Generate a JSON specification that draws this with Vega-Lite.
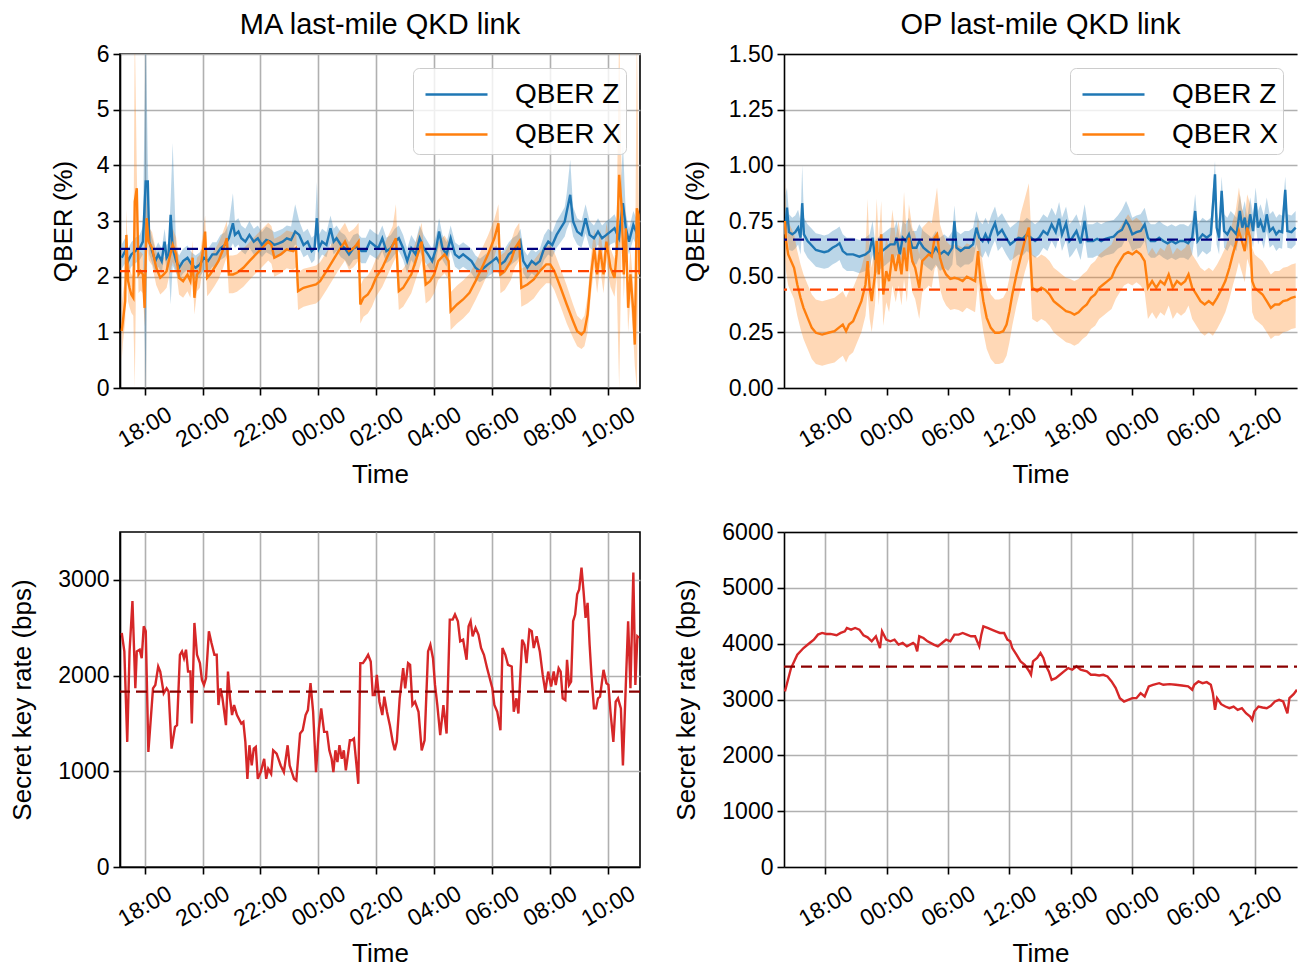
{
"$schema": "https://vega.github.io/schema/vega-lite/v6.json",
"background": "white",
"padding": {"left": 9, "top": 10, "right": 0, "bottom": 0},
"bounds": "flush",
"columns": 2,
"spacing": {"row": 144, "column": 144},
"resolve": {"scale": {"color": "independent"}},
"config": {
 "font": "Liberation Sans",
 "view": {"stroke": "black", "strokeWidth": 1.6},
 "axis": {"labelFontSize": 23, "titleFontSize": 26, "titleFontWeight": "normal", "labelColor": "black", "titleColor": "black", "domainColor": "black", "domainWidth": 1.6, "tickColor": "black", "tickWidth": 1.6, "tickSize": 7, "gridColor": "#b0b0b0", "gridWidth": 1.6, "gridOpacity": 1, "labelPadding": 4, "labelFlush": false, "labelOverlap": false},
 "axisX": {"labelAngle": -30, "labelAlign": "center", "labelBaseline": "middle", "labelPadding": 32, "titlePadding": 10},
 "title": {"fontSize": 29, "fontWeight": "normal", "color": "black", "offset": 3},
 "legend": {"title": null, "orient": "top-right", "offset": 14, "symbolType": "M-1.55,0H1.55", "symbolSize": 1600, "symbolStrokeWidth": 2.6, "symbolOffset": 17, "labelFontSize": 28, "labelOffset": 37, "rowPadding": 4, "padding": 5, "fillColor": "rgba(255,255,255,0.8)", "strokeColor": "#cccccc", "cornerRadius": 6, "labelColor": "black", "labelLimit": 300}
},
"datasets": {
 "maq": [
{"s":"QBER Z","t":17.21,"v":2.34,"lo":2.14,"hi":2.58},{"s":"QBER Z","t":17.33,"v":2.46,"lo":2.24,"hi":2.70},{"s":"QBER Z","t":17.43,"v":2.28,"lo":2.06,"hi":2.50},{"s":"QBER Z","t":17.54,"v":2.40,"lo":2.18,"hi":2.62},{"s":"QBER Z","t":17.68,"v":2.46,"lo":2.24,"hi":2.70},{"s":"QBER Z","t":17.83,"v":2.51,"lo":2.30,"hi":2.75},{"s":"QBER Z","t":17.94,"v":2.63,"lo":2.40,"hi":2.90},{"s":"QBER Z","t":18.04,"v":3.71,"lo":0,"hi":6.5},{"s":"QBER Z","t":18.11,"v":3.71,"lo":3.3,"hi":4.1},{"s":"QBER Z","t":18.16,"v":2.63,"lo":2.40,"hi":2.90},{"s":"QBER Z","t":18.26,"v":2.46,"lo":2.24,"hi":2.70},{"s":"QBER Z","t":18.37,"v":2.28,"lo":2.06,"hi":2.50},{"s":"QBER Z","t":18.47,"v":2.40,"lo":2.18,"hi":2.62},{"s":"QBER Z","t":18.59,"v":2.28,"lo":2.06,"hi":2.50},{"s":"QBER Z","t":18.69,"v":2.63,"lo":2.40,"hi":2.86},{"s":"QBER Z","t":18.76,"v":2.34,"lo":2.12,"hi":2.56},{"s":"QBER Z","t":18.83,"v":2.40,"lo":2.18,"hi":2.62},{"s":"QBER Z","t":18.90,"v":3.11,"lo":1.5,"hi":3.4},{"s":"QBER Z","t":18.97,"v":2.51,"lo":2.2,"hi":4.4},{"s":"QBER Z","t":19.09,"v":2.28,"lo":2.06,"hi":2.50},{"s":"QBER Z","t":19.19,"v":2.16,"lo":1.95,"hi":2.38},{"s":"QBER Z","t":19.33,"v":2.28,"lo":2.06,"hi":2.50},{"s":"QBER Z","t":19.48,"v":2.34,"lo":2.12,"hi":2.56},{"s":"QBER Z","t":19.62,"v":2.22,"lo":2.00,"hi":2.44},{"s":"QBER Z","t":19.76,"v":2.16,"lo":1.95,"hi":2.38},{"s":"QBER Z","t":19.91,"v":2.22,"lo":2.00,"hi":2.44},{"s":"QBER Z","t":20.05,"v":2.34,"lo":2.12,"hi":2.56},{"s":"QBER Z","t":20.19,"v":2.28,"lo":2.06,"hi":2.50},{"s":"QBER Z","t":20.34,"v":2.40,"lo":2.18,"hi":2.62},{"s":"QBER Z","t":20.48,"v":2.40,"lo":2.18,"hi":2.62},{"s":"QBER Z","t":20.62,"v":2.51,"lo":2.30,"hi":2.75},{"s":"QBER Z","t":20.77,"v":2.57,"lo":2.35,"hi":2.80},{"s":"QBER Z","t":20.91,"v":2.69,"lo":2.45,"hi":2.95},{"s":"QBER Z","t":21.05,"v":2.96,"lo":2.6,"hi":3.5},{"s":"QBER Z","t":21.12,"v":2.75,"lo":2.52,"hi":3.0},{"s":"QBER Z","t":21.24,"v":2.81,"lo":2.58,"hi":3.05},{"s":"QBER Z","t":21.34,"v":2.69,"lo":2.46,"hi":2.92},{"s":"QBER Z","t":21.48,"v":2.63,"lo":2.40,"hi":2.86},{"s":"QBER Z","t":21.62,"v":2.75,"lo":2.52,"hi":3.0},{"s":"QBER Z","t":21.77,"v":2.63,"lo":2.40,"hi":2.86},{"s":"QBER Z","t":21.91,"v":2.69,"lo":2.46,"hi":2.92},{"s":"QBER Z","t":22.05,"v":2.57,"lo":2.35,"hi":2.80},{"s":"QBER Z","t":22.20,"v":2.66,"lo":2.44,"hi":2.90},{"s":"QBER Z","t":22.34,"v":2.63,"lo":2.40,"hi":2.86},{"s":"QBER Z","t":22.48,"v":2.57,"lo":2.35,"hi":2.80},{"s":"QBER Z","t":22.63,"v":2.60,"lo":2.38,"hi":2.83},{"s":"QBER Z","t":22.77,"v":2.63,"lo":2.40,"hi":2.86},{"s":"QBER Z","t":22.91,"v":2.69,"lo":2.46,"hi":2.92},{"s":"QBER Z","t":23.06,"v":2.66,"lo":2.44,"hi":2.90},{"s":"QBER Z","t":23.20,"v":2.81,"lo":2.58,"hi":3.3},{"s":"QBER Z","t":23.34,"v":2.75,"lo":2.52,"hi":3.0},{"s":"QBER Z","t":23.49,"v":2.57,"lo":2.35,"hi":2.80},{"s":"QBER Z","t":23.63,"v":2.63,"lo":2.40,"hi":2.86},{"s":"QBER Z","t":23.77,"v":2.46,"lo":2.24,"hi":2.70},{"s":"QBER Z","t":23.87,"v":2.51,"lo":2.30,"hi":2.75},{"s":"QBER Z","t":23.95,"v":3.05,"lo":2.7,"hi":3.7},{"s":"QBER Z","t":24.02,"v":2.51,"lo":2.30,"hi":2.75},{"s":"QBER Z","t":24.13,"v":2.63,"lo":2.40,"hi":2.86},{"s":"QBER Z","t":24.28,"v":2.57,"lo":2.35,"hi":2.80},{"s":"QBER Z","t":24.42,"v":2.87,"lo":2.6,"hi":3.1},{"s":"QBER Z","t":24.53,"v":2.63,"lo":2.40,"hi":2.86},{"s":"QBER Z","t":24.63,"v":2.69,"lo":2.46,"hi":2.92},{"s":"QBER Z","t":24.78,"v":2.57,"lo":2.35,"hi":2.80},{"s":"QBER Z","t":24.92,"v":2.51,"lo":2.30,"hi":2.75},{"s":"QBER Z","t":25.06,"v":2.40,"lo":2.18,"hi":2.62},{"s":"QBER Z","t":25.21,"v":2.51,"lo":2.30,"hi":2.75},{"s":"QBER Z","t":25.35,"v":2.54,"lo":2.32,"hi":2.78},{"s":"QBER Z","t":25.49,"v":2.46,"lo":2.24,"hi":2.70},{"s":"QBER Z","t":25.64,"v":2.46,"lo":2.24,"hi":2.70},{"s":"QBER Z","t":25.78,"v":2.63,"lo":2.40,"hi":2.86},{"s":"QBER Z","t":25.92,"v":2.57,"lo":2.35,"hi":2.80},{"s":"QBER Z","t":26.07,"v":2.51,"lo":2.30,"hi":2.75},{"s":"QBER Z","t":26.21,"v":2.69,"lo":2.46,"hi":2.92},{"s":"QBER Z","t":26.35,"v":2.46,"lo":2.24,"hi":2.70},{"s":"QBER Z","t":26.50,"v":2.51,"lo":2.30,"hi":2.75},{"s":"QBER Z","t":26.64,"v":2.63,"lo":2.40,"hi":2.86},{"s":"QBER Z","t":26.78,"v":2.69,"lo":2.46,"hi":2.92},{"s":"QBER Z","t":26.93,"v":2.51,"lo":2.30,"hi":2.75},{"s":"QBER Z","t":27.07,"v":2.28,"lo":2.06,"hi":2.50},{"s":"QBER Z","t":27.21,"v":2.51,"lo":2.30,"hi":2.75},{"s":"QBER Z","t":27.36,"v":2.40,"lo":2.18,"hi":2.62},{"s":"QBER Z","t":27.50,"v":2.69,"lo":2.46,"hi":2.92},{"s":"QBER Z","t":27.64,"v":2.51,"lo":2.30,"hi":2.75},{"s":"QBER Z","t":27.79,"v":2.40,"lo":2.18,"hi":2.62},{"s":"QBER Z","t":27.93,"v":2.28,"lo":2.06,"hi":2.50},{"s":"QBER Z","t":28.07,"v":2.51,"lo":2.30,"hi":2.75},{"s":"QBER Z","t":28.17,"v":2.81,"lo":2.58,"hi":3.05},{"s":"QBER Z","t":28.29,"v":2.51,"lo":2.30,"hi":2.75},{"s":"QBER Z","t":28.43,"v":2.40,"lo":2.18,"hi":2.62},{"s":"QBER Z","t":28.57,"v":2.69,"lo":2.46,"hi":2.92},{"s":"QBER Z","t":28.72,"v":2.40,"lo":2.18,"hi":2.62},{"s":"QBER Z","t":28.86,"v":2.34,"lo":2.12,"hi":2.56},{"s":"QBER Z","t":29.00,"v":2.40,"lo":2.18,"hi":2.62},{"s":"QBER Z","t":29.15,"v":2.34,"lo":2.12,"hi":2.56},{"s":"QBER Z","t":29.29,"v":2.28,"lo":2.06,"hi":2.50},{"s":"QBER Z","t":29.43,"v":2.16,"lo":1.95,"hi":2.38},{"s":"QBER Z","t":29.58,"v":2.10,"lo":1.90,"hi":2.32},{"s":"QBER Z","t":29.72,"v":2.16,"lo":1.95,"hi":2.38},{"s":"QBER Z","t":29.86,"v":2.22,"lo":2.00,"hi":2.44},{"s":"QBER Z","t":30.01,"v":2.28,"lo":2.06,"hi":2.50},{"s":"QBER Z","t":30.15,"v":2.34,"lo":2.12,"hi":2.56},{"s":"QBER Z","t":30.29,"v":2.22,"lo":2.00,"hi":2.44},{"s":"QBER Z","t":30.44,"v":2.28,"lo":2.06,"hi":2.50},{"s":"QBER Z","t":30.58,"v":2.40,"lo":2.18,"hi":2.62},{"s":"QBER Z","t":30.72,"v":2.46,"lo":2.24,"hi":2.70},{"s":"QBER Z","t":30.87,"v":2.51,"lo":2.30,"hi":2.75},{"s":"QBER Z","t":30.98,"v":2.63,"lo":2.40,"hi":2.86},{"s":"QBER Z","t":31.08,"v":2.28,"lo":2.06,"hi":2.50},{"s":"QBER Z","t":31.22,"v":2.16,"lo":1.95,"hi":2.38},{"s":"QBER Z","t":31.37,"v":2.28,"lo":2.06,"hi":2.50},{"s":"QBER Z","t":31.51,"v":2.22,"lo":2.00,"hi":2.44},{"s":"QBER Z","t":31.65,"v":2.28,"lo":2.06,"hi":2.50},{"s":"QBER Z","t":31.80,"v":2.51,"lo":2.30,"hi":2.75},{"s":"QBER Z","t":31.94,"v":2.63,"lo":2.40,"hi":2.86},{"s":"QBER Z","t":32.08,"v":2.57,"lo":2.35,"hi":2.80},{"s":"QBER Z","t":32.23,"v":2.75,"lo":2.52,"hi":3.0},{"s":"QBER Z","t":32.37,"v":2.87,"lo":2.62,"hi":3.12},{"s":"QBER Z","t":32.51,"v":2.99,"lo":2.72,"hi":3.25},{"s":"QBER Z","t":32.58,"v":3.17,"lo":2.85,"hi":3.5},{"s":"QBER Z","t":32.70,"v":3.47,"lo":3.0,"hi":4.1},{"s":"QBER Z","t":32.80,"v":2.99,"lo":2.72,"hi":3.25},{"s":"QBER Z","t":32.94,"v":2.81,"lo":2.58,"hi":3.05},{"s":"QBER Z","t":33.09,"v":2.75,"lo":2.52,"hi":3.0},{"s":"QBER Z","t":33.23,"v":3.05,"lo":2.78,"hi":3.3},{"s":"QBER Z","t":33.37,"v":2.75,"lo":2.52,"hi":3.0},{"s":"QBER Z","t":33.52,"v":2.69,"lo":2.46,"hi":2.92},{"s":"QBER Z","t":33.66,"v":2.81,"lo":2.58,"hi":3.05},{"s":"QBER Z","t":33.80,"v":2.69,"lo":2.46,"hi":2.92},{"s":"QBER Z","t":33.95,"v":2.75,"lo":2.52,"hi":3.0},{"s":"QBER Z","t":34.09,"v":2.81,"lo":2.58,"hi":3.05},{"s":"QBER Z","t":34.23,"v":2.87,"lo":2.62,"hi":3.12},{"s":"QBER Z","t":34.38,"v":2.69,"lo":2.46,"hi":2.92},{"s":"QBER Z","t":34.52,"v":3.32,"lo":2.9,"hi":4.4},{"s":"QBER Z","t":34.62,"v":2.87,"lo":2.62,"hi":3.12},{"s":"QBER Z","t":34.73,"v":2.63,"lo":2.40,"hi":2.86},{"s":"QBER Z","t":34.88,"v":2.93,"lo":2.68,"hi":3.18},{"s":"QBER Z","t":35.02,"v":2.75,"lo":2.52,"hi":3.0},{"s":"QBER Z","t":35.09,"v":2.69,"lo":2.46,"hi":2.92},
{"s":"QBER X","t":17.21,"v":1.02,"lo":0.5,"hi":1.5},{"s":"QBER X","t":17.25,"v":1.20,"lo":0.8,"hi":1.7},{"s":"QBER X","t":17.33,"v":1.56,"lo":1.2,"hi":2.0},{"s":"QBER X","t":17.37,"v":2.75,"lo":2.3,"hi":3.2},{"s":"QBER X","t":17.43,"v":1.92,"lo":1.55,"hi":2.3},{"s":"QBER X","t":17.48,"v":1.80,"lo":1.45,"hi":2.2},{"s":"QBER X","t":17.54,"v":1.68,"lo":1.35,"hi":2.05},{"s":"QBER X","t":17.61,"v":1.62,"lo":1.3,"hi":2.0},{"s":"QBER X","t":17.66,"v":3.35,"lo":0,"hi":6.5},{"s":"QBER X","t":17.73,"v":3.59,"lo":3.1,"hi":3.9},{"s":"QBER X","t":17.79,"v":2.04,"lo":1.7,"hi":2.4},{"s":"QBER X","t":17.86,"v":2.10,"lo":1.75,"hi":2.45},{"s":"QBER X","t":17.94,"v":2.04,"lo":1.7,"hi":2.4},{"s":"QBER X","t":18.00,"v":1.44,"lo":1.1,"hi":1.8},{"s":"QBER X","t":18.07,"v":3.05,"lo":2.7,"hi":3.4},{"s":"QBER X","t":18.14,"v":2.63,"lo":2.3,"hi":2.9},{"s":"QBER X","t":18.26,"v":2.51,"lo":2.2,"hi":2.8},{"s":"QBER X","t":18.40,"v":2.16,"lo":1.85,"hi":2.45},{"s":"QBER X","t":18.54,"v":1.98,"lo":1.68,"hi":2.28},{"s":"QBER X","t":18.66,"v":2.04,"lo":1.74,"hi":2.34},{"s":"QBER X","t":18.76,"v":2.10,"lo":1.8,"hi":2.4},{"s":"QBER X","t":18.86,"v":2.34,"lo":2.04,"hi":2.64},{"s":"QBER X","t":18.97,"v":2.57,"lo":2.27,"hi":2.87},{"s":"QBER X","t":19.09,"v":2.40,"lo":2.1,"hi":2.7},{"s":"QBER X","t":19.19,"v":1.98,"lo":1.68,"hi":2.28},{"s":"QBER X","t":19.33,"v":1.92,"lo":1.62,"hi":2.22},{"s":"QBER X","t":19.48,"v":2.04,"lo":1.74,"hi":2.34},{"s":"QBER X","t":19.58,"v":1.92,"lo":1.62,"hi":2.22},{"s":"QBER X","t":19.66,"v":2.34,"lo":2.04,"hi":2.64},{"s":"QBER X","t":19.72,"v":1.62,"lo":1.32,"hi":1.92},{"s":"QBER X","t":19.81,"v":2.04,"lo":1.74,"hi":2.34},{"s":"QBER X","t":19.91,"v":2.10,"lo":1.8,"hi":2.4},{"s":"QBER X","t":20.01,"v":2.46,"lo":2.16,"hi":2.76},{"s":"QBER X","t":20.09,"v":2.81,"lo":2.5,"hi":3.1},{"s":"QBER X","t":20.16,"v":1.98,"lo":1.65,"hi":2.3},{"s":"QBER X","t":20.26,"v":2.04,"lo":1.71,"hi":2.36},{"s":"QBER X","t":20.41,"v":2.16,"lo":1.83,"hi":2.48},{"s":"QBER X","t":20.55,"v":2.28,"lo":1.95,"hi":2.6},{"s":"QBER X","t":20.69,"v":2.46,"lo":2.13,"hi":2.78},{"s":"QBER X","t":20.84,"v":2.69,"lo":2.36,"hi":3.0},{"s":"QBER X","t":20.91,"v":2.04,"lo":1.7,"hi":2.38},{"s":"QBER X","t":21.05,"v":2.04,"lo":1.7,"hi":2.38},{"s":"QBER X","t":21.19,"v":2.07,"lo":1.73,"hi":2.4},{"s":"QBER X","t":21.41,"v":2.16,"lo":1.82,"hi":2.5},{"s":"QBER X","t":21.62,"v":2.28,"lo":1.94,"hi":2.62},{"s":"QBER X","t":21.84,"v":2.40,"lo":2.06,"hi":2.74},{"s":"QBER X","t":22.05,"v":2.51,"lo":2.17,"hi":2.85},{"s":"QBER X","t":22.27,"v":2.63,"lo":2.29,"hi":2.97},{"s":"QBER X","t":22.38,"v":2.57,"lo":2.23,"hi":2.91},{"s":"QBER X","t":22.48,"v":2.34,"lo":2.0,"hi":2.68},{"s":"QBER X","t":22.70,"v":2.40,"lo":2.06,"hi":2.74},{"s":"QBER X","t":22.91,"v":2.49,"lo":2.15,"hi":2.83},{"s":"QBER X","t":23.13,"v":2.46,"lo":2.12,"hi":2.8},{"s":"QBER X","t":23.23,"v":2.51,"lo":2.17,"hi":2.85},{"s":"QBER X","t":23.30,"v":1.74,"lo":1.4,"hi":2.08},{"s":"QBER X","t":23.49,"v":1.80,"lo":1.46,"hi":2.14},{"s":"QBER X","t":23.70,"v":1.83,"lo":1.49,"hi":2.17},{"s":"QBER X","t":23.92,"v":1.86,"lo":1.52,"hi":2.2},{"s":"QBER X","t":24.06,"v":1.92,"lo":1.58,"hi":2.26},{"s":"QBER X","t":24.28,"v":2.10,"lo":1.76,"hi":2.44},{"s":"QBER X","t":24.49,"v":2.28,"lo":1.94,"hi":2.62},{"s":"QBER X","t":24.70,"v":2.46,"lo":2.12,"hi":2.8},{"s":"QBER X","t":24.92,"v":2.63,"lo":2.29,"hi":2.97},{"s":"QBER X","t":25.06,"v":2.46,"lo":2.12,"hi":2.8},{"s":"QBER X","t":25.21,"v":2.51,"lo":2.17,"hi":2.85},{"s":"QBER X","t":25.31,"v":2.57,"lo":2.23,"hi":2.91},{"s":"QBER X","t":25.39,"v":2.63,"lo":2.29,"hi":2.97},{"s":"QBER X","t":25.45,"v":1.50,"lo":1.16,"hi":1.84},{"s":"QBER X","t":25.56,"v":1.62,"lo":1.28,"hi":1.96},{"s":"QBER X","t":25.71,"v":1.68,"lo":1.34,"hi":2.02},{"s":"QBER X","t":25.85,"v":1.80,"lo":1.46,"hi":2.14},{"s":"QBER X","t":25.99,"v":1.98,"lo":1.64,"hi":2.32},{"s":"QBER X","t":26.21,"v":2.16,"lo":1.82,"hi":2.5},{"s":"QBER X","t":26.42,"v":2.40,"lo":2.06,"hi":2.74},{"s":"QBER X","t":26.57,"v":2.57,"lo":2.23,"hi":2.91},{"s":"QBER X","t":26.68,"v":2.69,"lo":2.35,"hi":3.3},{"s":"QBER X","t":26.78,"v":1.74,"lo":1.4,"hi":2.08},{"s":"QBER X","t":26.93,"v":1.80,"lo":1.46,"hi":2.14},{"s":"QBER X","t":27.07,"v":1.92,"lo":1.58,"hi":2.26},{"s":"QBER X","t":27.21,"v":2.04,"lo":1.7,"hi":2.38},{"s":"QBER X","t":27.36,"v":2.28,"lo":1.94,"hi":2.62},{"s":"QBER X","t":27.50,"v":2.51,"lo":2.17,"hi":2.85},{"s":"QBER X","t":27.57,"v":2.63,"lo":2.29,"hi":2.97},{"s":"QBER X","t":27.71,"v":1.86,"lo":1.52,"hi":2.2},{"s":"QBER X","t":27.86,"v":1.92,"lo":1.58,"hi":2.26},{"s":"QBER X","t":28.00,"v":2.04,"lo":1.7,"hi":2.38},{"s":"QBER X","t":28.14,"v":2.28,"lo":1.94,"hi":2.62},{"s":"QBER X","t":28.36,"v":2.40,"lo":2.06,"hi":2.74},{"s":"QBER X","t":28.50,"v":2.28,"lo":1.94,"hi":2.62},{"s":"QBER X","t":28.57,"v":1.38,"lo":1.04,"hi":1.72},{"s":"QBER X","t":28.79,"v":1.50,"lo":1.16,"hi":1.84},{"s":"QBER X","t":29.00,"v":1.59,"lo":1.25,"hi":1.93},{"s":"QBER X","t":29.22,"v":1.71,"lo":1.37,"hi":2.05},{"s":"QBER X","t":29.43,"v":1.92,"lo":1.58,"hi":2.26},{"s":"QBER X","t":29.65,"v":2.16,"lo":1.82,"hi":2.5},{"s":"QBER X","t":29.86,"v":2.40,"lo":2.06,"hi":2.74},{"s":"QBER X","t":30.08,"v":2.69,"lo":2.35,"hi":3.03},{"s":"QBER X","t":30.22,"v":2.96,"lo":2.62,"hi":3.3},{"s":"QBER X","t":30.29,"v":2.04,"lo":1.7,"hi":2.38},{"s":"QBER X","t":30.44,"v":2.10,"lo":1.76,"hi":2.44},{"s":"QBER X","t":30.65,"v":2.28,"lo":1.94,"hi":2.62},{"s":"QBER X","t":30.79,"v":2.51,"lo":2.17,"hi":2.85},{"s":"QBER X","t":30.94,"v":2.63,"lo":2.29,"hi":2.97},{"s":"QBER X","t":31.01,"v":1.80,"lo":1.46,"hi":2.14},{"s":"QBER X","t":31.22,"v":1.86,"lo":1.52,"hi":2.2},{"s":"QBER X","t":31.44,"v":1.95,"lo":1.61,"hi":2.29},{"s":"QBER X","t":31.65,"v":2.10,"lo":1.76,"hi":2.44},{"s":"QBER X","t":31.87,"v":2.22,"lo":1.88,"hi":2.56},{"s":"QBER X","t":32.01,"v":2.22,"lo":1.88,"hi":2.56},{"s":"QBER X","t":32.15,"v":2.10,"lo":1.76,"hi":2.44},{"s":"QBER X","t":32.37,"v":1.80,"lo":1.46,"hi":2.14},{"s":"QBER X","t":32.58,"v":1.50,"lo":1.16,"hi":1.84},{"s":"QBER X","t":32.80,"v":1.20,"lo":0.9,"hi":1.5},{"s":"QBER X","t":32.94,"v":1.02,"lo":0.75,"hi":1.3},{"s":"QBER X","t":33.09,"v":0.96,"lo":0.7,"hi":1.22},{"s":"QBER X","t":33.19,"v":1.02,"lo":0.75,"hi":1.3},{"s":"QBER X","t":33.30,"v":1.32,"lo":1.0,"hi":1.65},{"s":"QBER X","t":33.42,"v":2.04,"lo":1.7,"hi":2.38},{"s":"QBER X","t":33.53,"v":2.51,"lo":2.17,"hi":2.85},{"s":"QBER X","t":33.63,"v":2.04,"lo":1.7,"hi":2.38},{"s":"QBER X","t":33.73,"v":2.51,"lo":2.17,"hi":2.85},{"s":"QBER X","t":33.85,"v":2.04,"lo":1.7,"hi":2.38},{"s":"QBER X","t":33.95,"v":2.63,"lo":2.29,"hi":2.97},{"s":"QBER X","t":34.09,"v":2.16,"lo":1.82,"hi":2.5},{"s":"QBER X","t":34.23,"v":1.98,"lo":1.64,"hi":2.32},{"s":"QBER X","t":34.30,"v":2.40,"lo":2.0,"hi":2.8},{"s":"QBER X","t":34.39,"v":3.83,"lo":0,"hi":6.5},{"s":"QBER X","t":34.48,"v":3.23,"lo":2.8,"hi":3.6},{"s":"QBER X","t":34.55,"v":2.04,"lo":1.6,"hi":2.5},{"s":"QBER X","t":34.62,"v":2.87,"lo":2.4,"hi":3.3},{"s":"QBER X","t":34.70,"v":1.44,"lo":1.0,"hi":1.9},{"s":"QBER X","t":34.78,"v":2.04,"lo":1.6,"hi":2.5},{"s":"QBER X","t":34.87,"v":1.44,"lo":1.0,"hi":1.9},{"s":"QBER X","t":34.93,"v":0.78,"lo":0.4,"hi":1.2},{"s":"QBER X","t":35.00,"v":3.23,"lo":0,"hi":6.5},{"s":"QBER X","t":35.06,"v":3.11,"lo":2.6,"hi":3.6},{"s":"QBER X","t":35.09,"v":2.04,"lo":1.6,"hi":2.5}
 ],
 "opq": [
{"s":"QBER Z","t":14.04,"v":0.69,"lo":0.61,"hi":0.86},{"s":"QBER Z","t":14.24,"v":0.81,"lo":0.70,"hi":0.90},{"s":"QBER Z","t":14.44,"v":0.70,"lo":0.62,"hi":0.78},{"s":"QBER Z","t":14.76,"v":0.69,"lo":0.615,"hi":0.765},{"s":"QBER Z","t":15.05,"v":0.70,"lo":0.625,"hi":0.775},{"s":"QBER Z","t":15.33,"v":0.72,"lo":0.645,"hi":0.8},{"s":"QBER Z","t":15.57,"v":0.675,"lo":0.6,"hi":0.75},{"s":"QBER Z","t":15.73,"v":0.83,"lo":0.72,"hi":1.0},{"s":"QBER Z","t":15.90,"v":0.69,"lo":0.615,"hi":0.765},{"s":"QBER Z","t":16.26,"v":0.66,"lo":0.585,"hi":0.735},{"s":"QBER Z","t":16.67,"v":0.64,"lo":0.565,"hi":0.715},{"s":"QBER Z","t":17.07,"v":0.62,"lo":0.545,"hi":0.695},{"s":"QBER Z","t":17.47,"v":0.615,"lo":0.54,"hi":0.69},{"s":"QBER Z","t":17.88,"v":0.61,"lo":0.535,"hi":0.685},{"s":"QBER Z","t":18.28,"v":0.615,"lo":0.54,"hi":0.69},{"s":"QBER Z","t":18.69,"v":0.63,"lo":0.555,"hi":0.705},{"s":"QBER Z","t":19.09,"v":0.64,"lo":0.565,"hi":0.715},{"s":"QBER Z","t":19.38,"v":0.65,"lo":0.575,"hi":0.725},{"s":"QBER Z","t":19.70,"v":0.615,"lo":0.54,"hi":0.69},{"s":"QBER Z","t":20.10,"v":0.60,"lo":0.525,"hi":0.675},{"s":"QBER Z","t":20.71,"v":0.60,"lo":0.525,"hi":0.675},{"s":"QBER Z","t":21.32,"v":0.59,"lo":0.515,"hi":0.665},{"s":"QBER Z","t":21.92,"v":0.60,"lo":0.525,"hi":0.675},{"s":"QBER Z","t":22.33,"v":0.615,"lo":0.54,"hi":0.69},{"s":"QBER Z","t":22.61,"v":0.675,"lo":0.6,"hi":0.75},{"s":"QBER Z","t":22.85,"v":0.585,"lo":0.51,"hi":0.66},{"s":"QBER Z","t":23.14,"v":0.60,"lo":0.525,"hi":0.675},{"s":"QBER Z","t":23.54,"v":0.615,"lo":0.54,"hi":0.69},{"s":"QBER Z","t":23.95,"v":0.63,"lo":0.555,"hi":0.705},{"s":"QBER Z","t":24.35,"v":0.645,"lo":0.57,"hi":0.72},{"s":"QBER Z","t":24.76,"v":0.645,"lo":0.57,"hi":0.72},{"s":"QBER Z","t":24.96,"v":0.675,"lo":0.6,"hi":0.75},{"s":"QBER Z","t":25.28,"v":0.60,"lo":0.525,"hi":0.675},{"s":"QBER Z","t":25.56,"v":0.675,"lo":0.6,"hi":0.75},{"s":"QBER Z","t":25.85,"v":0.66,"lo":0.585,"hi":0.735},{"s":"QBER Z","t":26.17,"v":0.69,"lo":0.615,"hi":0.765},{"s":"QBER Z","t":26.50,"v":0.63,"lo":0.555,"hi":0.705},{"s":"QBER Z","t":26.90,"v":0.63,"lo":0.555,"hi":0.705},{"s":"QBER Z","t":27.18,"v":0.66,"lo":0.585,"hi":0.735},{"s":"QBER Z","t":27.59,"v":0.63,"lo":0.555,"hi":0.705},{"s":"QBER Z","t":27.99,"v":0.615,"lo":0.54,"hi":0.69},{"s":"QBER Z","t":28.40,"v":0.60,"lo":0.525,"hi":0.675},{"s":"QBER Z","t":28.80,"v":0.63,"lo":0.555,"hi":0.705},{"s":"QBER Z","t":29.21,"v":0.60,"lo":0.525,"hi":0.675},{"s":"QBER Z","t":29.61,"v":0.615,"lo":0.54,"hi":0.69},{"s":"QBER Z","t":30.01,"v":0.60,"lo":0.525,"hi":0.675},{"s":"QBER Z","t":30.42,"v":0.63,"lo":0.555,"hi":0.705},{"s":"QBER Z","t":30.62,"v":0.75,"lo":0.66,"hi":0.82},{"s":"QBER Z","t":30.82,"v":0.63,"lo":0.555,"hi":0.705},{"s":"QBER Z","t":31.23,"v":0.615,"lo":0.54,"hi":0.69},{"s":"QBER Z","t":31.63,"v":0.63,"lo":0.555,"hi":0.705},{"s":"QBER Z","t":32.04,"v":0.63,"lo":0.555,"hi":0.705},{"s":"QBER Z","t":32.44,"v":0.645,"lo":0.57,"hi":0.72},{"s":"QBER Z","t":32.77,"v":0.72,"lo":0.645,"hi":0.795},{"s":"QBER Z","t":33.05,"v":0.675,"lo":0.6,"hi":0.75},{"s":"QBER Z","t":33.37,"v":0.66,"lo":0.585,"hi":0.735},{"s":"QBER Z","t":33.66,"v":0.69,"lo":0.615,"hi":0.765},{"s":"QBER Z","t":33.94,"v":0.66,"lo":0.585,"hi":0.735},{"s":"QBER Z","t":34.26,"v":0.705,"lo":0.63,"hi":0.78},{"s":"QBER Z","t":34.59,"v":0.74,"lo":0.665,"hi":0.815},{"s":"QBER Z","t":34.87,"v":0.69,"lo":0.615,"hi":0.765},{"s":"QBER Z","t":35.27,"v":0.71,"lo":0.635,"hi":0.785},{"s":"QBER Z","t":35.68,"v":0.675,"lo":0.6,"hi":0.75},{"s":"QBER Z","t":36.08,"v":0.645,"lo":0.57,"hi":0.72},{"s":"QBER Z","t":36.49,"v":0.66,"lo":0.585,"hi":0.735},{"s":"QBER Z","t":36.89,"v":0.675,"lo":0.6,"hi":0.75},{"s":"QBER Z","t":37.30,"v":0.67,"lo":0.595,"hi":0.745},{"s":"QBER Z","t":37.70,"v":0.69,"lo":0.615,"hi":0.765},{"s":"QBER Z","t":38.11,"v":0.675,"lo":0.6,"hi":0.75},{"s":"QBER Z","t":38.51,"v":0.66,"lo":0.585,"hi":0.735},{"s":"QBER Z","t":38.91,"v":0.675,"lo":0.6,"hi":0.75},{"s":"QBER Z","t":39.32,"v":0.705,"lo":0.63,"hi":0.78},{"s":"QBER Z","t":39.72,"v":0.69,"lo":0.615,"hi":0.765},{"s":"QBER Z","t":40.13,"v":0.735,"lo":0.66,"hi":0.81},{"s":"QBER Z","t":40.53,"v":0.70,"lo":0.625,"hi":0.775},{"s":"QBER Z","t":40.86,"v":0.76,"lo":0.685,"hi":0.835},{"s":"QBER Z","t":41.14,"v":0.69,"lo":0.615,"hi":0.765},{"s":"QBER Z","t":41.54,"v":0.74,"lo":0.665,"hi":0.815},{"s":"QBER Z","t":41.87,"v":0.66,"lo":0.585,"hi":0.735},{"s":"QBER Z","t":42.15,"v":0.675,"lo":0.6,"hi":0.75},{"s":"QBER Z","t":42.56,"v":0.705,"lo":0.63,"hi":0.78},{"s":"QBER Z","t":42.96,"v":0.65,"lo":0.575,"hi":0.725},{"s":"QBER Z","t":43.36,"v":0.75,"lo":0.675,"hi":0.825},{"s":"QBER Z","t":43.65,"v":0.66,"lo":0.585,"hi":0.735},{"s":"QBER Z","t":44.17,"v":0.66,"lo":0.585,"hi":0.735},{"s":"QBER Z","t":44.58,"v":0.67,"lo":0.595,"hi":0.745},{"s":"QBER Z","t":44.98,"v":0.66,"lo":0.585,"hi":0.735},{"s":"QBER Z","t":45.39,"v":0.67,"lo":0.595,"hi":0.745},{"s":"QBER Z","t":45.79,"v":0.675,"lo":0.6,"hi":0.75},{"s":"QBER Z","t":46.20,"v":0.68,"lo":0.605,"hi":0.755},{"s":"QBER Z","t":46.60,"v":0.70,"lo":0.625,"hi":0.775},{"s":"QBER Z","t":47.00,"v":0.71,"lo":0.635,"hi":0.8},{"s":"QBER Z","t":47.41,"v":0.75,"lo":0.675,"hi":0.84},{"s":"QBER Z","t":47.69,"v":0.73,"lo":0.655,"hi":0.81},{"s":"QBER Z","t":48.02,"v":0.69,"lo":0.615,"hi":0.765},{"s":"QBER Z","t":48.42,"v":0.70,"lo":0.625,"hi":0.775},{"s":"QBER Z","t":48.83,"v":0.705,"lo":0.63,"hi":0.78},{"s":"QBER Z","t":49.23,"v":0.735,"lo":0.66,"hi":0.81},{"s":"QBER Z","t":49.55,"v":0.675,"lo":0.6,"hi":0.75},{"s":"QBER Z","t":49.84,"v":0.66,"lo":0.585,"hi":0.735},{"s":"QBER Z","t":50.24,"v":0.66,"lo":0.585,"hi":0.735},{"s":"QBER Z","t":50.65,"v":0.675,"lo":0.6,"hi":0.75},{"s":"QBER Z","t":51.05,"v":0.66,"lo":0.585,"hi":0.735},{"s":"QBER Z","t":51.46,"v":0.65,"lo":0.575,"hi":0.725},{"s":"QBER Z","t":51.86,"v":0.66,"lo":0.585,"hi":0.735},{"s":"QBER Z","t":52.26,"v":0.65,"lo":0.575,"hi":0.725},{"s":"QBER Z","t":52.67,"v":0.66,"lo":0.585,"hi":0.735},{"s":"QBER Z","t":53.07,"v":0.66,"lo":0.585,"hi":0.735},{"s":"QBER Z","t":53.48,"v":0.65,"lo":0.575,"hi":0.725},{"s":"QBER Z","t":53.88,"v":0.675,"lo":0.6,"hi":0.75},{"s":"QBER Z","t":54.17,"v":0.795,"lo":0.7,"hi":0.87},{"s":"QBER Z","t":54.41,"v":0.66,"lo":0.585,"hi":0.735},{"s":"QBER Z","t":54.89,"v":0.69,"lo":0.615,"hi":0.765},{"s":"QBER Z","t":55.30,"v":0.675,"lo":0.6,"hi":0.75},{"s":"QBER Z","t":55.70,"v":0.69,"lo":0.615,"hi":0.765},{"s":"QBER Z","t":55.94,"v":0.84,"lo":0.75,"hi":0.92},{"s":"QBER Z","t":56.11,"v":0.96,"lo":0.85,"hi":1.02},{"s":"QBER Z","t":56.27,"v":0.72,"lo":0.645,"hi":0.795},{"s":"QBER Z","t":56.51,"v":0.675,"lo":0.6,"hi":0.75},{"s":"QBER Z","t":56.76,"v":0.885,"lo":0.8,"hi":0.95},{"s":"QBER Z","t":57.00,"v":0.705,"lo":0.63,"hi":0.78},{"s":"QBER Z","t":57.32,"v":0.69,"lo":0.615,"hi":0.765},{"s":"QBER Z","t":57.64,"v":0.72,"lo":0.645,"hi":0.795},{"s":"QBER Z","t":57.93,"v":0.705,"lo":0.63,"hi":0.78},{"s":"QBER Z","t":58.21,"v":0.69,"lo":0.615,"hi":0.765},{"s":"QBER Z","t":58.54,"v":0.795,"lo":0.71,"hi":0.87},{"s":"QBER Z","t":58.78,"v":0.72,"lo":0.645,"hi":0.795},{"s":"QBER Z","t":59.02,"v":0.765,"lo":0.69,"hi":0.84},{"s":"QBER Z","t":59.26,"v":0.69,"lo":0.615,"hi":0.765},{"s":"QBER Z","t":59.55,"v":0.78,"lo":0.705,"hi":0.855},{"s":"QBER Z","t":59.83,"v":0.705,"lo":0.63,"hi":0.78},{"s":"QBER Z","t":60.08,"v":0.83,"lo":0.74,"hi":0.9},{"s":"QBER Z","t":60.32,"v":0.72,"lo":0.645,"hi":0.795},{"s":"QBER Z","t":60.56,"v":0.75,"lo":0.675,"hi":0.825},{"s":"QBER Z","t":60.89,"v":0.70,"lo":0.625,"hi":0.775},{"s":"QBER Z","t":61.17,"v":0.78,"lo":0.705,"hi":0.855},{"s":"QBER Z","t":61.46,"v":0.705,"lo":0.63,"hi":0.78},{"s":"QBER Z","t":61.78,"v":0.72,"lo":0.645,"hi":0.795},{"s":"QBER Z","t":62.10,"v":0.69,"lo":0.615,"hi":0.765},{"s":"QBER Z","t":62.38,"v":0.705,"lo":0.63,"hi":0.78},{"s":"QBER Z","t":62.67,"v":0.70,"lo":0.625,"hi":0.775},{"s":"QBER Z","t":62.98,"v":0.89,"lo":0.8,"hi":0.95},{"s":"QBER Z","t":63.19,"v":0.705,"lo":0.63,"hi":0.78},{"s":"QBER Z","t":63.59,"v":0.70,"lo":0.625,"hi":0.775},{"s":"QBER Z","t":64.00,"v":0.72,"lo":0.645,"hi":0.795},
{"s":"QBER X","t":14.04,"v":0.75,"lo":0.6,"hi":0.93},{"s":"QBER X","t":14.16,"v":0.66,"lo":0.52,"hi":0.81},{"s":"QBER X","t":14.36,"v":0.60,"lo":0.46,"hi":0.75},{"s":"QBER X","t":14.64,"v":0.57,"lo":0.43,"hi":0.72},{"s":"QBER X","t":14.93,"v":0.54,"lo":0.4,"hi":0.69},{"s":"QBER X","t":15.25,"v":0.465,"lo":0.325,"hi":0.615},{"s":"QBER X","t":15.57,"v":0.405,"lo":0.265,"hi":0.555},{"s":"QBER X","t":15.86,"v":0.36,"lo":0.22,"hi":0.51},{"s":"QBER X","t":16.26,"v":0.315,"lo":0.175,"hi":0.465},{"s":"QBER X","t":16.67,"v":0.27,"lo":0.13,"hi":0.42},{"s":"QBER X","t":17.07,"v":0.248,"lo":0.108,"hi":0.398},{"s":"QBER X","t":17.68,"v":0.24,"lo":0.1,"hi":0.39},{"s":"QBER X","t":18.28,"v":0.248,"lo":0.108,"hi":0.398},{"s":"QBER X","t":18.89,"v":0.255,"lo":0.115,"hi":0.405},{"s":"QBER X","t":19.29,"v":0.27,"lo":0.13,"hi":0.42},{"s":"QBER X","t":19.70,"v":0.285,"lo":0.145,"hi":0.435},{"s":"QBER X","t":20.02,"v":0.255,"lo":0.115,"hi":0.405},{"s":"QBER X","t":20.31,"v":0.285,"lo":0.145,"hi":0.435},{"s":"QBER X","t":20.71,"v":0.30,"lo":0.16,"hi":0.45},{"s":"QBER X","t":21.11,"v":0.345,"lo":0.205,"hi":0.495},{"s":"QBER X","t":21.52,"v":0.39,"lo":0.25,"hi":0.54},{"s":"QBER X","t":21.92,"v":0.465,"lo":0.325,"hi":0.615},{"s":"QBER X","t":22.13,"v":0.57,"lo":0.43,"hi":0.85},{"s":"QBER X","t":22.33,"v":0.45,"lo":0.31,"hi":0.6},{"s":"QBER X","t":22.53,"v":0.39,"lo":0.25,"hi":0.54},{"s":"QBER X","t":22.85,"v":0.51,"lo":0.37,"hi":0.66},{"s":"QBER X","t":23.02,"v":0.66,"lo":0.52,"hi":0.85},{"s":"QBER X","t":23.22,"v":0.51,"lo":0.37,"hi":0.66},{"s":"QBER X","t":23.46,"v":0.69,"lo":0.55,"hi":0.84},{"s":"QBER X","t":23.66,"v":0.42,"lo":0.28,"hi":0.57},{"s":"QBER X","t":23.95,"v":0.525,"lo":0.385,"hi":0.675},{"s":"QBER X","t":24.23,"v":0.48,"lo":0.34,"hi":0.63},{"s":"QBER X","t":24.55,"v":0.60,"lo":0.46,"hi":0.8},{"s":"QBER X","t":24.88,"v":0.525,"lo":0.385,"hi":0.675},{"s":"QBER X","t":25.16,"v":0.60,"lo":0.46,"hi":0.75},{"s":"QBER X","t":25.44,"v":0.51,"lo":0.37,"hi":0.66},{"s":"QBER X","t":25.69,"v":0.63,"lo":0.49,"hi":0.88},{"s":"QBER X","t":25.97,"v":0.525,"lo":0.385,"hi":0.675},{"s":"QBER X","t":26.17,"v":0.675,"lo":0.535,"hi":0.825},{"s":"QBER X","t":26.50,"v":0.57,"lo":0.43,"hi":0.72},{"s":"QBER X","t":26.78,"v":0.54,"lo":0.4,"hi":0.69},{"s":"QBER X","t":27.18,"v":0.45,"lo":0.31,"hi":0.6},{"s":"QBER X","t":27.47,"v":0.57,"lo":0.43,"hi":0.72},{"s":"QBER X","t":27.79,"v":0.585,"lo":0.445,"hi":0.735},{"s":"QBER X","t":28.11,"v":0.60,"lo":0.46,"hi":0.75},{"s":"QBER X","t":28.40,"v":0.59,"lo":0.45,"hi":0.74},{"s":"QBER X","t":28.68,"v":0.675,"lo":0.535,"hi":0.825},{"s":"QBER X","t":28.92,"v":0.69,"lo":0.55,"hi":0.9},{"s":"QBER X","t":29.21,"v":0.585,"lo":0.445,"hi":0.735},{"s":"QBER X","t":29.49,"v":0.54,"lo":0.4,"hi":0.69},{"s":"QBER X","t":29.81,"v":0.51,"lo":0.37,"hi":0.66},{"s":"QBER X","t":30.22,"v":0.49,"lo":0.35,"hi":0.64},{"s":"QBER X","t":30.62,"v":0.495,"lo":0.355,"hi":0.645},{"s":"QBER X","t":31.03,"v":0.49,"lo":0.35,"hi":0.64},{"s":"QBER X","t":31.43,"v":0.48,"lo":0.34,"hi":0.63},{"s":"QBER X","t":31.83,"v":0.50,"lo":0.36,"hi":0.65},{"s":"QBER X","t":32.24,"v":0.49,"lo":0.35,"hi":0.64},{"s":"QBER X","t":32.64,"v":0.48,"lo":0.34,"hi":0.63},{"s":"QBER X","t":32.93,"v":0.615,"lo":0.475,"hi":0.765},{"s":"QBER X","t":33.17,"v":0.48,"lo":0.34,"hi":0.63},{"s":"QBER X","t":33.45,"v":0.39,"lo":0.25,"hi":0.54},{"s":"QBER X","t":33.78,"v":0.315,"lo":0.175,"hi":0.465},{"s":"QBER X","t":34.18,"v":0.27,"lo":0.13,"hi":0.42},{"s":"QBER X","t":34.59,"v":0.248,"lo":0.108,"hi":0.398},{"s":"QBER X","t":34.99,"v":0.248,"lo":0.108,"hi":0.398},{"s":"QBER X","t":35.39,"v":0.255,"lo":0.115,"hi":0.405},{"s":"QBER X","t":35.72,"v":0.285,"lo":0.145,"hi":0.435},{"s":"QBER X","t":36.00,"v":0.345,"lo":0.205,"hi":0.495},{"s":"QBER X","t":36.28,"v":0.42,"lo":0.28,"hi":0.57},{"s":"QBER X","t":36.69,"v":0.51,"lo":0.37,"hi":0.66},{"s":"QBER X","t":37.09,"v":0.585,"lo":0.445,"hi":0.78},{"s":"QBER X","t":37.50,"v":0.66,"lo":0.52,"hi":0.85},{"s":"QBER X","t":37.90,"v":0.72,"lo":0.58,"hi":0.92},{"s":"QBER X","t":38.23,"v":0.45,"lo":0.31,"hi":0.6},{"s":"QBER X","t":38.71,"v":0.435,"lo":0.295,"hi":0.585},{"s":"QBER X","t":39.12,"v":0.45,"lo":0.31,"hi":0.6},{"s":"QBER X","t":39.52,"v":0.44,"lo":0.3,"hi":0.59},{"s":"QBER X","t":39.93,"v":0.42,"lo":0.28,"hi":0.57},{"s":"QBER X","t":40.33,"v":0.39,"lo":0.25,"hi":0.54},{"s":"QBER X","t":40.73,"v":0.375,"lo":0.235,"hi":0.525},{"s":"QBER X","t":41.14,"v":0.36,"lo":0.22,"hi":0.51},{"s":"QBER X","t":41.54,"v":0.345,"lo":0.205,"hi":0.495},{"s":"QBER X","t":41.95,"v":0.34,"lo":0.2,"hi":0.49},{"s":"QBER X","t":42.35,"v":0.33,"lo":0.19,"hi":0.48},{"s":"QBER X","t":42.76,"v":0.34,"lo":0.2,"hi":0.49},{"s":"QBER X","t":43.16,"v":0.36,"lo":0.22,"hi":0.51},{"s":"QBER X","t":43.57,"v":0.375,"lo":0.235,"hi":0.525},{"s":"QBER X","t":43.97,"v":0.405,"lo":0.265,"hi":0.555},{"s":"QBER X","t":44.38,"v":0.42,"lo":0.28,"hi":0.57},{"s":"QBER X","t":44.78,"v":0.45,"lo":0.31,"hi":0.6},{"s":"QBER X","t":45.18,"v":0.465,"lo":0.325,"hi":0.615},{"s":"QBER X","t":45.59,"v":0.48,"lo":0.34,"hi":0.63},{"s":"QBER X","t":45.99,"v":0.495,"lo":0.355,"hi":0.645},{"s":"QBER X","t":46.40,"v":0.54,"lo":0.4,"hi":0.69},{"s":"QBER X","t":46.80,"v":0.57,"lo":0.43,"hi":0.72},{"s":"QBER X","t":47.21,"v":0.60,"lo":0.46,"hi":0.75},{"s":"QBER X","t":47.61,"v":0.61,"lo":0.47,"hi":0.78},{"s":"QBER X","t":48.02,"v":0.60,"lo":0.46,"hi":0.75},{"s":"QBER X","t":48.42,"v":0.615,"lo":0.475,"hi":0.765},{"s":"QBER X","t":48.83,"v":0.60,"lo":0.46,"hi":0.75},{"s":"QBER X","t":49.23,"v":0.57,"lo":0.43,"hi":0.72},{"s":"QBER X","t":49.55,"v":0.45,"lo":0.31,"hi":0.6},{"s":"QBER X","t":49.96,"v":0.48,"lo":0.34,"hi":0.63},{"s":"QBER X","t":50.36,"v":0.45,"lo":0.31,"hi":0.6},{"s":"QBER X","t":50.77,"v":0.48,"lo":0.34,"hi":0.63},{"s":"QBER X","t":51.17,"v":0.465,"lo":0.325,"hi":0.615},{"s":"QBER X","t":51.58,"v":0.51,"lo":0.37,"hi":0.66},{"s":"QBER X","t":51.98,"v":0.45,"lo":0.31,"hi":0.6},{"s":"QBER X","t":52.39,"v":0.48,"lo":0.34,"hi":0.63},{"s":"QBER X","t":52.79,"v":0.465,"lo":0.325,"hi":0.615},{"s":"QBER X","t":53.19,"v":0.48,"lo":0.34,"hi":0.63},{"s":"QBER X","t":53.52,"v":0.51,"lo":0.37,"hi":0.66},{"s":"QBER X","t":53.88,"v":0.45,"lo":0.31,"hi":0.6},{"s":"QBER X","t":54.29,"v":0.42,"lo":0.28,"hi":0.57},{"s":"QBER X","t":54.69,"v":0.39,"lo":0.25,"hi":0.54},{"s":"QBER X","t":55.10,"v":0.375,"lo":0.235,"hi":0.525},{"s":"QBER X","t":55.50,"v":0.39,"lo":0.25,"hi":0.54},{"s":"QBER X","t":55.90,"v":0.375,"lo":0.235,"hi":0.525},{"s":"QBER X","t":56.31,"v":0.405,"lo":0.265,"hi":0.555},{"s":"QBER X","t":56.71,"v":0.44,"lo":0.3,"hi":0.59},{"s":"QBER X","t":57.12,"v":0.48,"lo":0.34,"hi":0.63},{"s":"QBER X","t":57.52,"v":0.54,"lo":0.4,"hi":0.69},{"s":"QBER X","t":57.85,"v":0.60,"lo":0.46,"hi":0.75},{"s":"QBER X","t":58.13,"v":0.645,"lo":0.505,"hi":0.795},{"s":"QBER X","t":58.45,"v":0.705,"lo":0.565,"hi":0.9},{"s":"QBER X","t":58.74,"v":0.66,"lo":0.52,"hi":0.81},{"s":"QBER X","t":59.02,"v":0.615,"lo":0.475,"hi":0.765},{"s":"QBER X","t":59.26,"v":0.72,"lo":0.58,"hi":0.87},{"s":"QBER X","t":59.55,"v":0.675,"lo":0.535,"hi":0.825},{"s":"QBER X","t":59.75,"v":0.48,"lo":0.34,"hi":0.63},{"s":"QBER X","t":59.99,"v":0.45,"lo":0.31,"hi":0.6},{"s":"QBER X","t":60.36,"v":0.435,"lo":0.295,"hi":0.585},{"s":"QBER X","t":60.76,"v":0.42,"lo":0.28,"hi":0.57},{"s":"QBER X","t":61.17,"v":0.39,"lo":0.25,"hi":0.54},{"s":"QBER X","t":61.57,"v":0.36,"lo":0.22,"hi":0.51},{"s":"QBER X","t":61.97,"v":0.375,"lo":0.235,"hi":0.525},{"s":"QBER X","t":62.38,"v":0.375,"lo":0.235,"hi":0.525},{"s":"QBER X","t":62.78,"v":0.39,"lo":0.25,"hi":0.54},{"s":"QBER X","t":63.19,"v":0.395,"lo":0.255,"hi":0.545},{"s":"QBER X","t":63.59,"v":0.405,"lo":0.265,"hi":0.555},{"s":"QBER X","t":64.00,"v":0.41,"lo":0.27,"hi":0.56}
 ],
 "mak": [
{"t":17.21,"v":2445},{"t":17.30,"v":2252},{"t":17.40,"v":1307},{"t":17.48,"v":2252},{"t":17.58,"v":2778},{"t":17.68,"v":1867},{"t":17.73,"v":2252},{"t":17.83,"v":2270},{"t":17.90,"v":2182},{"t":17.97,"v":2515},{"t":18.04,"v":2463},{"t":18.13,"v":1202},{"t":18.29,"v":1867},{"t":18.37,"v":1902},{"t":18.47,"v":2095},{"t":18.54,"v":2042},{"t":18.66,"v":1815},{"t":18.76,"v":1867},{"t":18.83,"v":1832},{"t":18.93,"v":1237},{"t":19.05,"v":1464},{"t":19.12,"v":1482},{"t":19.22,"v":2217},{"t":19.29,"v":2252},{"t":19.36,"v":2182},{"t":19.43,"v":2270},{"t":19.50,"v":2042},{"t":19.58,"v":2042},{"t":19.63,"v":1499},{"t":19.72,"v":2550},{"t":19.81,"v":2217},{"t":19.91,"v":2130},{"t":19.98,"v":1955},{"t":20.05,"v":1902},{"t":20.12,"v":1972},{"t":20.22,"v":2463},{"t":20.31,"v":2340},{"t":20.41,"v":2217},{"t":20.49,"v":2217},{"t":20.55,"v":1692},{"t":20.62,"v":1867},{"t":20.69,"v":1762},{"t":20.81,"v":1482},{"t":20.88,"v":2042},{"t":20.95,"v":1762},{"t":21.02,"v":1587},{"t":21.09,"v":1692},{"t":21.19,"v":1587},{"t":21.34,"v":1499},{"t":21.41,"v":1517},{"t":21.48,"v":1307},{"t":21.55,"v":921},{"t":21.62,"v":1272},{"t":21.70,"v":1061},{"t":21.77,"v":1237},{"t":21.84,"v":1254},{"t":21.91,"v":921},{"t":22.01,"v":991},{"t":22.13,"v":1131},{"t":22.20,"v":921},{"t":22.27,"v":1026},{"t":22.37,"v":974},{"t":22.44,"v":1219},{"t":22.56,"v":1184},{"t":22.70,"v":1061},{"t":22.81,"v":991},{"t":22.94,"v":1272},{"t":23.01,"v":1061},{"t":23.16,"v":921},{"t":23.24,"v":904},{"t":23.37,"v":1394},{"t":23.46,"v":1429},{"t":23.56,"v":1587},{"t":23.64,"v":1639},{"t":23.73,"v":1920},{"t":23.82,"v":1622},{"t":23.92,"v":991},{"t":24.02,"v":1447},{"t":24.10,"v":1657},{"t":24.20,"v":1412},{"t":24.30,"v":1412},{"t":24.38,"v":1219},{"t":24.46,"v":1131},{"t":24.52,"v":991},{"t":24.59,"v":1219},{"t":24.66,"v":1096},{"t":24.73,"v":1272},{"t":24.81,"v":1131},{"t":24.88,"v":1219},{"t":24.95,"v":1009},{"t":25.09,"v":1324},{"t":25.16,"v":1324},{"t":25.23,"v":1342},{"t":25.38,"v":869},{"t":25.45,"v":2130},{"t":25.54,"v":2130},{"t":25.62,"v":2165},{"t":25.72,"v":2217},{"t":25.81,"v":2147},{"t":25.88,"v":1797},{"t":25.95,"v":1797},{"t":26.02,"v":2007},{"t":26.11,"v":1727},{"t":26.21,"v":1587},{"t":26.28,"v":1780},{"t":26.37,"v":1622},{"t":26.47,"v":1482},{"t":26.57,"v":1307},{"t":26.64,"v":1219},{"t":26.71,"v":1307},{"t":26.81,"v":1762},{"t":26.93,"v":2077},{"t":27.00,"v":1867},{"t":27.10,"v":2130},{"t":27.17,"v":2112},{"t":27.25,"v":1692},{"t":27.34,"v":1727},{"t":27.46,"v":1622},{"t":27.57,"v":1219},{"t":27.67,"v":1324},{"t":27.79,"v":2252},{"t":27.87,"v":2322},{"t":27.96,"v":2182},{"t":28.03,"v":1902},{"t":28.11,"v":1692},{"t":28.21,"v":1377},{"t":28.32,"v":1692},{"t":28.43,"v":1394},{"t":28.54,"v":2585},{"t":28.64,"v":2585},{"t":28.72,"v":2638},{"t":28.82,"v":2568},{"t":28.90,"v":2358},{"t":29.00,"v":2375},{"t":29.12,"v":2165},{"t":29.19,"v":2515},{"t":29.26,"v":2568},{"t":29.33,"v":2410},{"t":29.43,"v":2498},{"t":29.53,"v":2428},{"t":29.62,"v":2288},{"t":29.72,"v":2217},{"t":29.83,"v":2077},{"t":30.01,"v":1867},{"t":30.08,"v":1692},{"t":30.18,"v":1622},{"t":30.29,"v":1429},{"t":30.36,"v":2288},{"t":30.46,"v":2217},{"t":30.55,"v":2112},{"t":30.68,"v":2095},{"t":30.75,"v":1622},{"t":30.84,"v":1762},{"t":30.91,"v":1604},{"t":31.04,"v":2375},{"t":31.12,"v":2322},{"t":31.19,"v":2130},{"t":31.29,"v":2480},{"t":31.37,"v":2463},{"t":31.44,"v":2288},{"t":31.54,"v":2410},{"t":31.65,"v":2252},{"t":31.75,"v":2007},{"t":31.84,"v":1832},{"t":31.94,"v":2042},{"t":32.04,"v":1885},{"t":32.13,"v":2042},{"t":32.20,"v":1902},{"t":32.30,"v":2077},{"t":32.37,"v":2042},{"t":32.44,"v":1762},{"t":32.53,"v":1744},{"t":32.59,"v":2165},{"t":32.66,"v":1902},{"t":32.73,"v":1937},{"t":32.80,"v":2568},{"t":32.87,"v":2638},{"t":32.94,"v":2848},{"t":33.01,"v":2900},{"t":33.09,"v":3128},{"t":33.16,"v":2883},{"t":33.23,"v":2603},{"t":33.30,"v":2760},{"t":33.37,"v":2322},{"t":33.44,"v":1972},{"t":33.52,"v":1657},{"t":33.59,"v":1657},{"t":33.66,"v":1762},{"t":33.73,"v":1780},{"t":33.85,"v":2060},{"t":33.95,"v":1920},{"t":34.02,"v":1902},{"t":34.09,"v":1622},{"t":34.19,"v":1307},{"t":34.27,"v":1727},{"t":34.35,"v":1762},{"t":34.45,"v":1657},{"t":34.52,"v":1061},{"t":34.62,"v":1902},{"t":34.70,"v":2568},{"t":34.78,"v":1867},{"t":34.88,"v":3076},{"t":34.95,"v":1902},{"t":35.02,"v":2410},{"t":35.08,"v":2393}
 ],
 "opk": [
{"t":14.04,"v":3144},{"t":14.64,"v":3563},{"t":15.25,"v":3802},{"t":15.86,"v":3922},{"t":16.46,"v":4012},{"t":16.87,"v":4072},{"t":17.27,"v":4162},{"t":17.68,"v":4192},{"t":18.08,"v":4174},{"t":18.49,"v":4174},{"t":19.09,"v":4150},{"t":19.50,"v":4192},{"t":19.90,"v":4222},{"t":20.10,"v":4281},{"t":20.51,"v":4251},{"t":20.91,"v":4281},{"t":21.32,"v":4251},{"t":21.72,"v":4150},{"t":22.13,"v":4114},{"t":22.53,"v":4042},{"t":22.94,"v":4132},{"t":23.34,"v":3922},{"t":23.54,"v":4222},{"t":23.95,"v":4072},{"t":24.35,"v":4042},{"t":24.76,"v":4072},{"t":25.16,"v":3982},{"t":25.56,"v":4012},{"t":25.97,"v":3952},{"t":26.58,"v":4012},{"t":26.78,"v":3982},{"t":26.98,"v":3862},{"t":27.18,"v":4132},{"t":27.59,"v":4102},{"t":27.99,"v":4042},{"t":28.60,"v":3982},{"t":29.00,"v":3952},{"t":29.41,"v":4012},{"t":29.81,"v":4072},{"t":30.22,"v":4042},{"t":30.62,"v":4162},{"t":31.03,"v":4162},{"t":31.43,"v":4192},{"t":31.83,"v":4162},{"t":32.24,"v":4132},{"t":32.64,"v":4132},{"t":33.05,"v":3952},{"t":33.25,"v":4162},{"t":33.45,"v":4311},{"t":33.86,"v":4281},{"t":34.26,"v":4251},{"t":34.67,"v":4222},{"t":35.07,"v":4192},{"t":35.48,"v":4192},{"t":35.80,"v":4072},{"t":36.08,"v":4042},{"t":36.28,"v":3922},{"t":36.69,"v":3802},{"t":37.09,"v":3683},{"t":37.50,"v":3623},{"t":37.90,"v":3515},{"t":38.11,"v":3443},{"t":38.31,"v":3683},{"t":38.71,"v":3743},{"t":39.04,"v":3832},{"t":39.32,"v":3743},{"t":39.52,"v":3623},{"t":39.85,"v":3503},{"t":40.13,"v":3353},{"t":40.53,"v":3383},{"t":40.94,"v":3443},{"t":41.34,"v":3503},{"t":41.75,"v":3563},{"t":42.15,"v":3533},{"t":42.56,"v":3593},{"t":42.96,"v":3533},{"t":43.57,"v":3503},{"t":43.97,"v":3443},{"t":44.38,"v":3443},{"t":44.78,"v":3431},{"t":45.18,"v":3443},{"t":45.59,"v":3413},{"t":45.99,"v":3323},{"t":46.40,"v":3204},{"t":46.80,"v":3024},{"t":47.21,"v":2964},{"t":47.61,"v":2994},{"t":48.02,"v":3024},{"t":48.42,"v":3024},{"t":48.83,"v":3114},{"t":49.23,"v":3054},{"t":49.63,"v":3234},{"t":50.04,"v":3263},{"t":50.65,"v":3293},{"t":51.05,"v":3263},{"t":51.66,"v":3275},{"t":52.27,"v":3263},{"t":52.87,"v":3251},{"t":53.48,"v":3234},{"t":53.88,"v":3174},{"t":54.08,"v":3263},{"t":54.49,"v":3323},{"t":54.89,"v":3293},{"t":55.30,"v":3311},{"t":55.70,"v":3263},{"t":55.90,"v":3114},{"t":56.11,"v":2814},{"t":56.31,"v":3024},{"t":56.71,"v":2916},{"t":57.12,"v":2874},{"t":57.52,"v":2844},{"t":57.93,"v":2874},{"t":58.33,"v":2814},{"t":58.74,"v":2844},{"t":59.14,"v":2754},{"t":59.55,"v":2695},{"t":59.75,"v":2635},{"t":59.95,"v":2784},{"t":60.36,"v":2874},{"t":60.76,"v":2856},{"t":61.17,"v":2844},{"t":61.57,"v":2886},{"t":61.97,"v":2964},{"t":62.38,"v":2994},{"t":62.78,"v":2964},{"t":63.19,"v":2754},{"t":63.39,"v":3024},{"t":63.80,"v":3096},{"t":64.12,"v":3174}
 ]
},
"concat": [
 {
  "title": {"text": "MA last-mile QKD link"},
  "width": 520, "height": 334,
  "data": {"name": "maq"},
  "layer": [
   {"transform": [{"filter": "datum.s === 'QBER Z'"}],
    "mark": {"type": "area", "color": "#1f77b4", "opacity": 0.3, "clip": true},
    "encoding": {
     "x": {"field": "t", "type": "quantitative", "scale": {"domain": [17.15, 35.11], "nice": false, "zero": false},
           "axis": {"title": "Time", "values": [18,20,22,24,26,28,30,32,34], "labelExpr": "(datum.value % 24 < 10 ? '0' : '') + (datum.value % 24) + ':00'"}},
     "y": {"field": "lo", "type": "quantitative", "scale": {"domain": [0, 6], "nice": false}, "axis": {"title": "QBER (%)", "values": [0,1,2,3,4,5,6], "format": "d", "titlePadding": 20}},
     "y2": {"field": "hi"}
    }},
   {"transform": [{"filter": "datum.s === 'QBER X'"}],
    "mark": {"type": "area", "color": "#ff7f0e", "opacity": 0.3, "clip": true},
    "encoding": {
     "x": {"field": "t", "type": "quantitative"},
     "y": {"field": "lo", "type": "quantitative", "axis": {"title": "QBER (%)"}},
     "y2": {"field": "hi"}
    }},
   {"mark": {"type": "line", "strokeWidth": 2.4, "clip": true},
    "encoding": {
     "x": {"field": "t", "type": "quantitative"},
     "y": {"field": "v", "type": "quantitative", "axis": {"title": "QBER (%)"}},
     "color": {"field": "s", "type": "nominal", "scale": {"domain": ["QBER Z", "QBER X"], "range": ["#1f77b4", "#ff7f0e"]}, "legend": {"orient": "top-right"}}
    }},
   {"data": {"values": [{"m": 2.5}]}, "mark": {"type": "rule", "color": "#000080", "strokeDash": [11, 6], "strokeWidth": 2.2},
    "encoding": {"y": {"field": "m", "type": "quantitative", "axis": {"title": "QBER (%)"}}}},
   {"data": {"values": [{"m": 2.1}]}, "mark": {"type": "rule", "color": "#ff4500", "strokeDash": [11, 6], "strokeWidth": 2.2},
    "encoding": {"y": {"field": "m", "type": "quantitative", "axis": {"title": "QBER (%)"}}}}
  ]
 },
 {
  "title": {"text": "OP last-mile QKD link"},
  "width": 513, "height": 334,
  "view": {"stroke": null},
  "data": {"name": "opq"},
  "resolve": {"axis": {"x": "independent"}},
  "layer": [
   {"transform": [{"filter": "datum.s === 'QBER Z'"}],
    "mark": {"type": "area", "color": "#1f77b4", "opacity": 0.3, "clip": true},
    "encoding": {
     "x": {"field": "t", "type": "quantitative", "scale": {"domain": [13.95, 64.13], "nice": false, "zero": false},
           "axis": {"orient": "top", "title": null, "labels": false, "ticks": false, "grid": false, "domain": true}},
     "y": {"field": "lo", "type": "quantitative", "scale": {"domain": [0, 1.5], "nice": false}, "axis": {"title": "QBER (%)", "values": [0,0.25,0.5,0.75,1,1.25,1.5], "format": ".2f", "titlePadding": 20}},
     "y2": {"field": "hi"}
    }},
   {"transform": [{"filter": "datum.s === 'QBER X'"}],
    "mark": {"type": "area", "color": "#ff7f0e", "opacity": 0.3, "clip": true},
    "encoding": {
     "x": {"field": "t", "type": "quantitative", "axis": null},
     "y": {"field": "lo", "type": "quantitative", "axis": {"title": "QBER (%)"}},
     "y2": {"field": "hi"}
    }},
   {"mark": {"type": "line", "strokeWidth": 2.4, "clip": true},
    "encoding": {
     "x": {"field": "t", "type": "quantitative", "axis": {"title": "Time", "values": [18,24,30,36,42,48,54,60], "labelExpr": "(datum.value % 24 < 10 ? '0' : '') + (datum.value % 24) + ':00'"}},
     "y": {"field": "v", "type": "quantitative", "axis": {"title": "QBER (%)"}},
     "color": {"field": "s", "type": "nominal", "scale": {"domain": ["QBER Z", "QBER X"], "range": ["#1f77b4", "#ff7f0e"]}, "legend": {"orient": "top-right"}}
    }},
   {"data": {"values": [{"m": 0.666}]}, "mark": {"type": "rule", "color": "#000080", "strokeDash": [11, 6], "strokeWidth": 2.2},
    "encoding": {"y": {"field": "m", "type": "quantitative", "axis": {"title": "QBER (%)"}}}},
   {"data": {"values": [{"m": 0.442}]}, "mark": {"type": "rule", "color": "#ff4500", "strokeDash": [11, 6], "strokeWidth": 2.2},
    "encoding": {"y": {"field": "m", "type": "quantitative", "axis": {"title": "QBER (%)"}}}}
  ]
 },
 {
  "width": 520, "height": 335,
  "layer": [
   {"data": {"name": "mak"},
    "mark": {"type": "line", "strokeWidth": 2.4, "color": "#d62728", "clip": true},
    "encoding": {
     "x": {"field": "t", "type": "quantitative", "scale": {"domain": [17.15, 35.11], "nice": false, "zero": false},
           "axis": {"title": "Time", "values": [18,20,22,24,26,28,30,32,34], "labelExpr": "(datum.value % 24 < 10 ? '0' : '') + (datum.value % 24) + ':00'"}},
     "y": {"field": "v", "type": "quantitative", "scale": {"domain": [0, 3500], "nice": false}, "axis": {"title": "Secret key rate (bps)", "values": [0,1000,2000,3000], "format": "d", "titlePadding": 22}}
    }},
   {"data": {"values": [{"m": 1832}]}, "mark": {"type": "rule", "color": "#8b0000", "strokeDash": [11, 6], "strokeWidth": 2.2},
    "encoding": {"y": {"field": "m", "type": "quantitative", "axis": {"title": "Secret key rate (bps)"}}}}
  ]
 },
 {
  "width": 513, "height": 335,
  "view": {"stroke": null},
  "resolve": {"axis": {"x": "independent"}},
  "layer": [
   {"data": {"name": "opk"},
    "mark": {"type": "line", "strokeWidth": 2.4, "color": "#d62728", "clip": true},
    "encoding": {
     "x": {"field": "t", "type": "quantitative", "scale": {"domain": [13.95, 64.13], "nice": false, "zero": false},
           "axis": {"title": "Time", "values": [18,24,30,36,42,48,54,60], "labelExpr": "(datum.value % 24 < 10 ? '0' : '') + (datum.value % 24) + ':00'"}},
     "y": {"field": "v", "type": "quantitative", "scale": {"domain": [0, 6000], "nice": false}, "axis": {"title": "Secret key rate (bps)", "values": [0,1000,2000,3000,4000,5000,6000], "format": "d", "titlePadding": 22}}
    }},
   {"data": {"values": [{"m": 3590, "t0": 13.95, "t1": 64.13}]}, "mark": {"type": "rule", "color": "#8b0000", "strokeDash": [11, 6], "strokeWidth": 2.2},
    "encoding": {
     "x": {"field": "t0", "type": "quantitative", "axis": {"orient": "top", "title": null, "labels": false, "ticks": false, "grid": false, "domain": true}},
     "x2": {"field": "t1"},
     "y": {"field": "m", "type": "quantitative", "axis": {"title": "Secret key rate (bps)"}}}}
  ]
 }
]
}
